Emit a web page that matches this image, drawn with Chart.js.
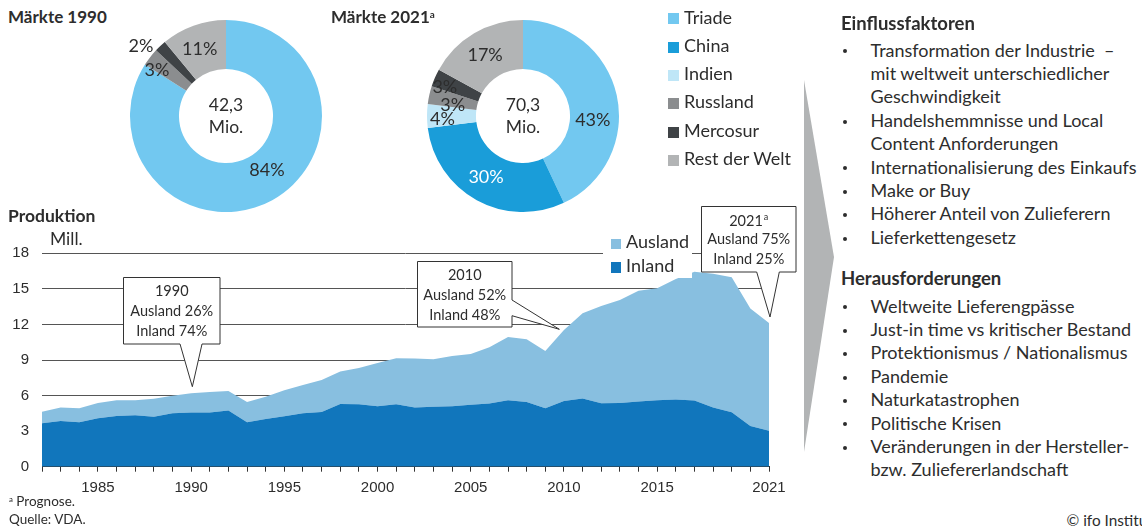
<!DOCTYPE html>
<html lang="de"><head><meta charset="utf-8">
<script src="https://cdn.jsdelivr.net/npm/chart.js@4.4.1/dist/chart.umd.min.js"></script>
<style>
html,body{margin:0;padding:0;background:#fff}
body{width:1142px;height:529px;position:relative;overflow:hidden;font-family:Lato,"Noto Sans",sans-serif;color:#2d2d2d}
.t{position:absolute;white-space:nowrap;line-height:1.2}
.b{font-weight:bold}
.box{position:absolute}
.sq{position:absolute}
.dot{position:absolute;width:4px;height:4px;border-radius:50%;background:#2d2d2d}
#arrow{position:absolute;left:804px;top:80px;width:30px;height:372px;background:#b2b4b5;clip-path:polygon(0 0,100% 47.6%,0 100%)}
#areaLegendBg{position:absolute;left:603px;top:232px;width:89px;height:46px;background:#fff}
</style></head><body>
<div class="box" style="left:126px;top:16px;width:200px;height:200px"><canvas id="d1"></canvas></div>
<div class="box" style="left:423px;top:16px;width:200px;height:200px"><canvas id="d2"></canvas></div>
<div class="box" style="left:0;top:200px;width:800px;height:300px"><canvas id="area"></canvas></div>
<div id="areaLegendBg"></div>
<div id="arrow"></div>
<div id="txt"></div>
<script>
// ---------- data ----------
const marktKategorien = ['Triade','China','Indien','Russland','Mercosur','Rest der Welt'];
const marktFarben = ['#72c8f0','#1a9dd9','#bfe6f7','#8b8d8f','#3f4346','#b2b4b5'];
const markt1990 = [84, 0, 0, 3, 2, 11];
const markt2021 = [43, 30, 4, 3, 3, 17];
const markt1990Gesamt = ['42,3', 'Mio.'];
const markt2021Gesamt = ['70,3', 'Mio.'];

const jahre = ['1982','1983','1984','1985','1986','1987','1988','1989','1990','1991',
               '1992','1993','1994','1995','1996','1997','1998','1999','2000','2001',
               '2002','2003','2004','2005','2006','2007','2008','2009','2010','2011',
               '2012','2013','2014','2015','2016','2017','2018','2019','2020','2021'];
// Produktion Inland (Mill.)
const inland = [3.66,3.85,3.74,4.08,4.27,4.33,4.22,4.50,4.58,4.58,
                4.75,3.74,4.02,4.25,4.50,4.61,5.29,5.26,5.10,5.26,
                5.00,5.06,5.09,5.23,5.34,5.60,5.46,4.92,5.54,5.75,
                5.35,5.37,5.51,5.60,5.66,5.58,5.00,4.60,3.43,3.03];
// Produktion gesamt = Inland + Ausland (Mill.)
const gesamt = [4.64,5.00,4.92,5.37,5.60,5.60,5.74,5.99,6.19,6.30,
                6.38,5.46,5.90,6.44,6.89,7.31,8.04,8.32,8.75,9.14,
                9.12,9.06,9.34,9.50,10.07,10.94,10.74,9.76,11.53,12.94,
                13.55,14.06,14.85,15.05,15.83,16.44,16.28,15.97,13.35,12.12];
const xTickLabels = ['1985','1990','1995','2000','2005','2010','2015','2021'];
const yMin = 0, yMax = 18, yStep = 3;
const farbeAusland = '#88bfe0', farbeInland = '#1176bc';

// ---------- html texts ----------
const TXT = '#2d2d2d';
const holder = document.getElementById('txt');
function addText(str, x, baseline, size, bold, extra){
  const d = document.createElement('div');
  d.className = 't' + (bold ? ' b' : '');
  d.style.left = x + 'px';
  d.style.top = (baseline - 0.987*size) + 'px';
  d.style.fontSize = size + 'px';
  d.innerHTML = str;
  if (extra) Object.assign(d.style, extra);
  holder.appendChild(d);
  return d;
}
function addSq(x, y, w, h, color){
  const d = document.createElement('div');
  d.className='sq'; Object.assign(d.style,{left:x+'px',top:y+'px',width:w+'px',height:h+'px',background:color});
  holder.appendChild(d);
}
function addDot(x, y){
  const d = document.createElement('div');
  d.className='dot'; d.style.left=(x-2)+'px'; d.style.top=(y-2)+'px';
  holder.appendChild(d);
}
const sup = s => '<span style="font-size:0.58em;vertical-align:0.55em">'+s+'</span>';

addText('Märkte 1990', 8, 24, 17, true);
addText('Märkte 2021'+sup('a'), 331, 24, 17, true);
addText('Produktion', 8, 222.7, 17.5, true);
addText('Mill.', 50, 245.7, 17.5, false);

// donut legend
marktKategorien.forEach((k,i)=>{
  const bl = 24.3 + i*28.3;
  addSq(668, bl-11, 11, 11, marktFarben[i]);
  addText(k, 684, bl, 18, false);
});
// area legend
addSq(611, 238.5, 10, 10.5, farbeAusland);
addText('Ausland', 626, 249, 18, false);
addSq(611, 262.2, 10, 10.5, farbeInland);
addText('Inland', 626, 272.7, 18, false);

// right panel
const einfluss = ['Transformation der Industrie &nbsp;–','mit weltweit unterschiedlicher','Geschwindigkeit',
  'Handelshemmnisse und Local','Content Anforderungen','Internationalisierung des Einkaufs',
  'Make or Buy','Höherer Anteil von Zulieferern','Lieferkettengesetz'];
const einflussBullet = [true,false,false,true,false,true,true,true,true];
const heraus = ['Weltweite Lieferengpässe','Just-in time vs kritischer Bestand','Protektionismus / Nationalismus',
  'Pandemie','Naturkatastrophen','Politische Krisen','Veränderungen in der Hersteller-','bzw. Zuliefererlandschaft'];
const herausBullet = [true,true,true,true,true,true,true,false];
const FS = 18;
addText('Einflussfaktoren', 841, 30, 18.5, true);
einfluss.forEach((s,i)=>{ const bl=57.3+i*23.4; addText(s, 870.5, bl, FS, false); if(einflussBullet[i]) addDot(845, bl-6); });
addText('Herausforderungen', 841, 285, 18.5, true);
heraus.forEach((s,i)=>{ const bl=313.3+i*23.4; addText(s, 870.5, bl, FS, false); if(herausBullet[i]) addDot(845, bl-6); });

// footnotes
addText(sup('a')+' Prognose.', 9, 506.5, 13.5, false);
addText('Quelle: VDA.', 9, 524, 13.5, false);
addText('© ifo Institut', 1066.5, 526.5, 15.3, false);

// ---------- charts ----------
Chart.defaults.font.family = 'Lato';
Chart.defaults.color = TXT;
Chart.defaults.animation = false;

const donutLabelPlugin = {
  id:'donutLabels',
  afterDatasetsDraw(chart, args, opts){
    const ctx = chart.ctx, meta = chart.getDatasetMeta(0);
    const ds = chart.data.datasets[0].data;
    ctx.save();
    ctx.textAlign='center'; ctx.textBaseline='middle';
    meta.data.forEach((arc,i)=>{
      if(!ds[i]) return;
      const p = arc.getCenterPoint();
      const off = opts.offsets[i] || [0,0];
      ctx.font = '18px Lato';
      ctx.fillStyle = (opts.labelColors && opts.labelColors[i]) || TXT;
      ctx.fillText(ds[i]+'%', p.x+off[0], p.y+off[1]);
    });
    const a0 = meta.data[0];
    ctx.fillStyle = TXT; ctx.font='17.5px Lato';
    ctx.fillText(opts.center[0], a0.x, a0.y-11);
    ctx.fillText(opts.center[1], a0.x, a0.y+11.5);
    ctx.restore();
  }
};

function makeDonut(id, values, center, offsets, labelColors){
  new Chart(document.getElementById(id), {
    type:'doughnut',
    data:{labels:marktKategorien, datasets:[{data:values, backgroundColor:marktFarben, borderWidth:0}]},
    options:{responsive:true, maintainAspectRatio:false, cutout:'49%', layout:{padding:4},
      plugins:{legend:{display:false}, tooltip:{enabled:false},
        donutLabels:{offsets, center, labelColors}}},
    plugins:[donutLabelPlugin]
  });
}
makeDonut('d1', markt1990, markt1990Gesamt,
  [[6.5,-8.7],[0,0],[0,0],[-12.5,-2],[-36,-18],[-2,0]]);
makeDonut('d2', markt2021, markt2021Gesamt,
  [[0,19.5],[-2.5,-1.5],[-9,3.5],[-0.5,4.5],[-12.5,0],[-1.5,0.5]],
  [null,'#ffffff',null,null,null,null]);

const calloutDefs = [
  {jahr:'1990', side:'bottom', tip:[1.2,-6.6], box:[-69.6,-110,96,66.6], base:[-12.3,9.7],
   lines:[{text:'1990'},{text:'Ausland 26%'},{text:'Inland 74%'}], baselines:[18.3,38.3,58.3]},
  {jahr:'2010', side:'right', tip:[-4.6,-0.7], box:[-142.6,-68.3,94.3,65.7], base:[-29.3,-13.6],
   lines:[{text:'2010'},{text:'Ausland 52%'},{text:'Inland 48%'}], baselines:[18.3,38.3,58.3]},
  {jahr:'2021', side:'bottom', tip:[1,-6], box:[-69.3,-110.7,94.6,65], base:[-13.3,9.3],
   lines:[{text:'2021',sup:'a'},{text:'Ausland 75%'},{text:'Inland 25%'}], baselines:[19,37,57]}
];

const calloutPlugin = {
  id:'callouts',
  afterDatasetsDraw(chart){
    const ctx = chart.ctx, xs = chart.scales.x, ys = chart.scales.y;
    calloutDefs.forEach(c=>{
      const i = jahre.indexOf(c.jahr);
      const px = xs.getPixelForValue(i), py = ys.getPixelForValue(gesamt[i]);
      const tx = px + c.tip[0], ty = py + c.tip[1];
      const L = Math.round(tx + c.box[0]) + 0.5, T = Math.round(ty + c.box[1]) + 0.5;
      const R = Math.round(L + c.box[2]), B = Math.round(T + c.box[3]);
      ctx.save();
      ctx.beginPath();
      ctx.moveTo(L,T); ctx.lineTo(R,T);
      if (c.side === 'right'){
        ctx.lineTo(R, ty + c.base[0]); ctx.lineTo(tx, ty); ctx.lineTo(R, ty + c.base[1]);
        ctx.lineTo(R,B); ctx.lineTo(L,B);
      } else {
        ctx.lineTo(R,B); ctx.lineTo(tx + c.base[1], B); ctx.lineTo(tx, ty);
        ctx.lineTo(tx + c.base[0], B); ctx.lineTo(L,B);
      }
      ctx.closePath();
      ctx.fillStyle='#fff'; ctx.fill();
      ctx.strokeStyle='#333'; ctx.lineWidth=1; ctx.stroke();
      ctx.fillStyle = TXT; ctx.textBaseline='alphabetic'; ctx.textAlign='left';
      const cx = (L+R)/2;
      c.lines.forEach((ln,k)=>{
        const y = T + c.baselines[k];
        ctx.font='14.5px Lato';
        const w = ctx.measureText(ln.text).width;
        let sw = 0;
        if (ln.sup){ ctx.font='9px Lato'; sw = ctx.measureText(ln.sup).width + 1; }
        const x0 = cx - (w+sw)/2;
        ctx.font='14.5px Lato'; ctx.fillText(ln.text, x0, y);
        if (ln.sup){ ctx.font='9px Lato'; ctx.fillText(ln.sup, x0+w+1, y-5.5); }
      });
      ctx.restore();
    });
  }
};

new Chart(document.getElementById('area'), {
  type:'line',
  data:{
    labels: jahre,
    datasets:[
      {label:'Inland', data:inland, fill:'origin', backgroundColor:farbeInland, borderWidth:0, pointRadius:0, tension:0},
      {label:'Ausland', data:gesamt, fill:'-1', backgroundColor:farbeAusland, borderWidth:0, pointRadius:0, tension:0}
    ]
  },
  options:{
    responsive:true, maintainAspectRatio:false,
    layout:{padding:{top:53.3, right:31, left:0, bottom:0}},
    plugins:{legend:{display:false}, tooltip:{enabled:false}},
    scales:{
      x:{
        offset:false,
        grid:{drawOnChartArea:false, drawTicks:true, tickLength:5, color:'#333', lineWidth:1},
        border:{display:true, color:'#333', width:1},
        ticks:{autoSkip:false, maxRotation:0, minRotation:0, padding:7, color:TXT,
          font:{family:'Liberation Sans', size:15},
          callback(v){ const l=this.getLabelForValue(v); return xTickLabels.includes(l) ? l : ''; }},
        afterFit(s){ s.height = 33.3; }
      },
      y:{
        min:yMin, max:yMax,
        grid:{drawTicks:false, color:'#555', lineWidth:1},
        border:{display:false},
        ticks:{stepSize:yStep, padding:13, color:TXT, font:{family:'Liberation Sans', size:15}},
        afterFit(s){ s.width = 42; }
      }
    }
  },
  plugins:[calloutPlugin]
});
</script>
</body></html>
